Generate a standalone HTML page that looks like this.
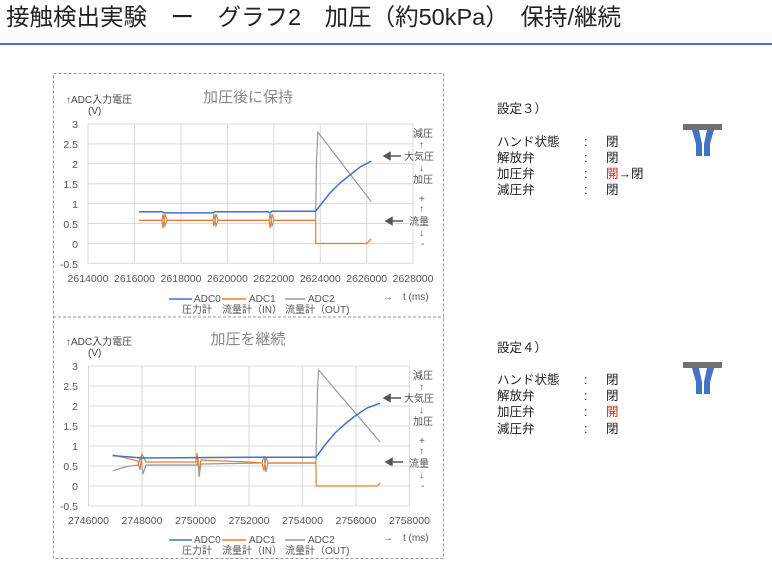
<!DOCTYPE html>
<html><head><meta charset="utf-8"><style>
body{margin:0;background:#fff;}
svg{display:block;font-family:"Liberation Sans","Noto Sans CJK JP",sans-serif;}
</style></head><body>
<svg width="772" height="562" viewBox="0 0 772 562" xmlns="http://www.w3.org/2000/svg">
<text x="6" y="25" font-size="23.5" fill="#222">接触検出実験　ー　グラフ2　加圧（約50kPa）　保持/継続</text>
<rect x="0" y="43" width="772" height="2" fill="#4a72b8"/>
<rect x="53.5" y="73.5" width="390" height="485" fill="none" stroke="#999" stroke-dasharray="3,2"/>
<line x1="53" y1="317" x2="444" y2="317" stroke="#999" stroke-dasharray="3,2"/>

<!-- Chart 1 -->
<g font-size="10" fill="#555">
<text x="248" y="102" font-size="15" fill="#888" text-anchor="middle">加圧後に保持</text>
<text x="66" y="103" fill="#444">↑ADC入力電圧</text><text x="88" y="114" fill="#444">(V)</text>
<g stroke="#d9d9d9" stroke-width="1">
<line x1="88" y1="124" x2="413" y2="124"/><line x1="88" y1="143.9" x2="413" y2="143.9"/><line x1="88" y1="163.8" x2="413" y2="163.8"/><line x1="88" y1="183.7" x2="413" y2="183.7"/><line x1="88" y1="203.6" x2="413" y2="203.6"/><line x1="88" y1="223.5" x2="413" y2="223.5"/><line x1="88" y1="243.5" x2="413" y2="243.5"/><line x1="88" y1="263.3" x2="413" y2="263.3"/>
<line x1="88" y1="124" x2="88" y2="263"/><line x1="134.5" y1="124" x2="134.5" y2="263"/><line x1="181" y1="124" x2="181" y2="263"/><line x1="227.4" y1="124" x2="227.4" y2="263"/><line x1="273.8" y1="124" x2="273.8" y2="263"/><line x1="320.3" y1="124" x2="320.3" y2="263"/><line x1="366.7" y1="124" x2="366.7" y2="263"/><line x1="413" y1="124" x2="413" y2="263"/>
</g>
<g text-anchor="end" font-size="10.5"><text x="78" y="128">3</text><text x="78" y="148">2.5</text><text x="78" y="168">2</text><text x="78" y="188">1.5</text><text x="78" y="208">1</text><text x="78" y="228">0.5</text><text x="78" y="248">0</text><text x="78" y="268">-0.5</text></g>
<g text-anchor="middle" font-size="10.5"><text x="88" y="282">2614000</text><text x="134.5" y="282">2616000</text><text x="181" y="282">2618000</text><text x="227.4" y="282">2620000</text><text x="273.8" y="282">2622000</text><text x="320.3" y="282">2624000</text><text x="366.7" y="282">2626000</text><text x="413" y="282">2628000</text></g>
<polyline fill="none" stroke="#999" stroke-width="1.2" points="139,220.4 162,220.4 163,214 165,226 167,220.4 213,220.4 214,214 216,226 218,220.4 269,220.4 270,214 272,226 274,220.4 315.6,220.4 316.5,160 317.9,132.1 371.3,201.7"/>
<polyline fill="none" stroke="#ed7d31" stroke-width="1.2" points="139,220.4 162,220.4 163,228 165,214 167,220.4 213,220.4 214,226 216,214 218,220.4 269,220.4 270,228 272,214 274,220.4 315.6,220.4 315.8,243.5 366.7,243.5 371.3,238.7"/>
<polyline fill="none" stroke="#4472c4" stroke-width="1.5" points="139,211.7 162.3,211.7 164,212.9 213.4,212.9 215,211.7 268,211.7 270,213 272,211.3 315.6,211.3 322,203 330,193 340,183 350,175 360,167 371.3,161.1"/>
<g stroke-width="1.5"><line x1="169" y1="299" x2="192" y2="299" stroke="#4472c4"/><line x1="222" y1="299" x2="246" y2="299" stroke="#ed7d31"/><line x1="285" y1="299" x2="305" y2="299" stroke="#999"/></g>
<text x="194" y="302">ADC0</text><text x="249" y="302">ADC1</text><text x="308" y="302">ADC2</text>
<text x="182" y="313">圧力計</text><text x="222" y="313">流量計（IN）</text><text x="285" y="313">流量計（OUT)</text>
<text x="383" y="300">→　t (ms)</text>
<text x="413" y="137">減圧</text><text x="419" y="148">↑</text><text x="404" y="160">大気圧</text><text x="419" y="171">↓</text><text x="413" y="183">加圧</text>
<text x="419" y="202">+</text><text x="419" y="212">↑</text><text x="409" y="225">流量</text><text x="419" y="236">↓</text><text x="421" y="247">-</text>
</g>
<g stroke="#555" stroke-width="1.5" fill="#555">
<line x1="388" y1="156" x2="401" y2="156"/><polygon points="384,156 390,152.5 390,159.5"/>
<line x1="390" y1="221" x2="403" y2="221"/><polygon points="386,221 392,217.5 392,224.5"/>
<line x1="388" y1="398" x2="401" y2="398"/><polygon points="384,398 390,394.5 390,401.5"/>
<line x1="390" y1="462" x2="403" y2="462"/><polygon points="386,462 392,458.5 392,465.5"/>
</g>

<!-- Chart 2 -->
<g font-size="10" fill="#555">
<text x="248" y="344" font-size="15" fill="#888" text-anchor="middle">加圧を継続</text>
<text x="66" y="345" fill="#444">↑ADC入力電圧</text><text x="88" y="356" fill="#444">(V)</text>
<g stroke="#d9d9d9" stroke-width="1">
<line x1="88.5" y1="366" x2="409.5" y2="366"/><line x1="88.5" y1="386" x2="409.5" y2="386"/><line x1="88.5" y1="406" x2="409.5" y2="406"/><line x1="88.5" y1="426" x2="409.5" y2="426"/><line x1="88.5" y1="446" x2="409.5" y2="446"/><line x1="88.5" y1="466" x2="409.5" y2="466"/><line x1="88.5" y1="486" x2="409.5" y2="486"/><line x1="88.5" y1="506" x2="409.5" y2="506"/>
<line x1="88.5" y1="366" x2="88.5" y2="506"/><line x1="142" y1="366" x2="142" y2="506"/><line x1="195.5" y1="366" x2="195.5" y2="506"/><line x1="249" y1="366" x2="249" y2="506"/><line x1="302.5" y1="366" x2="302.5" y2="506"/><line x1="356" y1="366" x2="356" y2="506"/><line x1="409.5" y1="366" x2="409.5" y2="506"/>
</g>
<g text-anchor="end" font-size="10.5"><text x="78" y="370">3</text><text x="78" y="390">2.5</text><text x="78" y="410">2</text><text x="78" y="430">1.5</text><text x="78" y="450">1</text><text x="78" y="470">0.5</text><text x="78" y="490">0</text><text x="78" y="510">-0.5</text></g>
<g text-anchor="middle" font-size="10.5"><text x="88.5" y="524">2746000</text><text x="142" y="524">2748000</text><text x="195.5" y="524">2750000</text><text x="249" y="524">2752000</text><text x="302.5" y="524">2754000</text><text x="356" y="524">2756000</text><text x="409.5" y="524">2758000</text></g>
<polyline fill="none" stroke="#999" stroke-width="1.2" points="112.6,470.8 125,467 138,465 141,456 143,474 146,465 197,465 198,458 199,477 201,464 262,463 264,456 266,472 268,463 315.9,463 317.5,390 318.6,370 380.1,442"/>
<polyline fill="none" stroke="#ed7d31" stroke-width="1.2" points="112.6,454.8 138,461 140,470 142,454 146,462 196,462 197,453 199,470 201,460 249,462 262,463 264,471 266,457 268,463 315.9,463 316.2,486 377.4,486 380,483"/>
<polyline fill="none" stroke="#4472c4" stroke-width="1.5" points="112.6,455.6 142,458 196,457.6 250,457.2 315.9,457.2 325,445 335,433 345,424 355,416 367,408 380.1,403.2"/>
<g stroke-width="1.5"><line x1="169" y1="540" x2="192" y2="540" stroke="#4472c4"/><line x1="222" y1="540" x2="246" y2="540" stroke="#ed7d31"/><line x1="285" y1="540" x2="305" y2="540" stroke="#999"/></g>
<text x="194" y="543">ADC0</text><text x="249" y="543">ADC1</text><text x="308" y="543">ADC2</text>
<text x="182" y="554">圧力計</text><text x="222" y="554">流量計（IN）</text><text x="285" y="554">流量計（OUT)</text>
<text x="383" y="541">→　t (ms)</text>
<text x="413" y="379">減圧</text><text x="419" y="390">↑</text><text x="404" y="402">大気圧</text><text x="419" y="413">↓</text><text x="413" y="425">加圧</text>
<text x="419" y="444">+</text><text x="419" y="454">↑</text><text x="409" y="467">流量</text><text x="419" y="478">↓</text><text x="421" y="489">-</text>
</g>

<!-- Right panel -->
<g font-size="12.5" fill="#222">
<text x="497" y="113">設定３）</text>
<text x="497" y="146">ハンド状態</text><text x="584" y="146">:</text><text x="606" y="146">閉</text>
<text x="497" y="162">解放弁</text><text x="584" y="162">:</text><text x="606" y="162">閉</text>
<text x="497" y="178">加圧弁</text><text x="584" y="178">:</text><text x="606" y="178"><tspan fill="#e02020">開</tspan>→閉</text>
<text x="497" y="194">減圧弁</text><text x="584" y="194">:</text><text x="606" y="194">閉</text>
<text x="497" y="352">設定４）</text>
<text x="497" y="384">ハンド状態</text><text x="584" y="384">:</text><text x="606" y="384">閉</text>
<text x="497" y="400">解放弁</text><text x="584" y="400">:</text><text x="606" y="400">閉</text>
<text x="497" y="416">加圧弁</text><text x="584" y="416">:</text><text x="606" y="416" fill="#e02020">開</text>
<text x="497" y="433">減圧弁</text><text x="584" y="433">:</text><text x="606" y="433">閉</text>
</g>
<g>
<rect x="683" y="124" width="39" height="6" fill="#707070"/>
<polygon points="692,130 699,130 702,144 702,156 696,156 696,144" fill="#4472c4"/>
<polygon points="707,130 714,130 710,144 710,156 704,156 704,144" fill="#4472c4"/>
<rect x="683" y="362" width="39" height="6" fill="#707070"/>
<polygon points="692,368 699,368 702,382 702,394 696,394 696,382" fill="#4472c4"/>
<polygon points="707,368 714,368 710,382 710,394 704,394 704,382" fill="#4472c4"/>
</g>
</svg>
</body></html>
